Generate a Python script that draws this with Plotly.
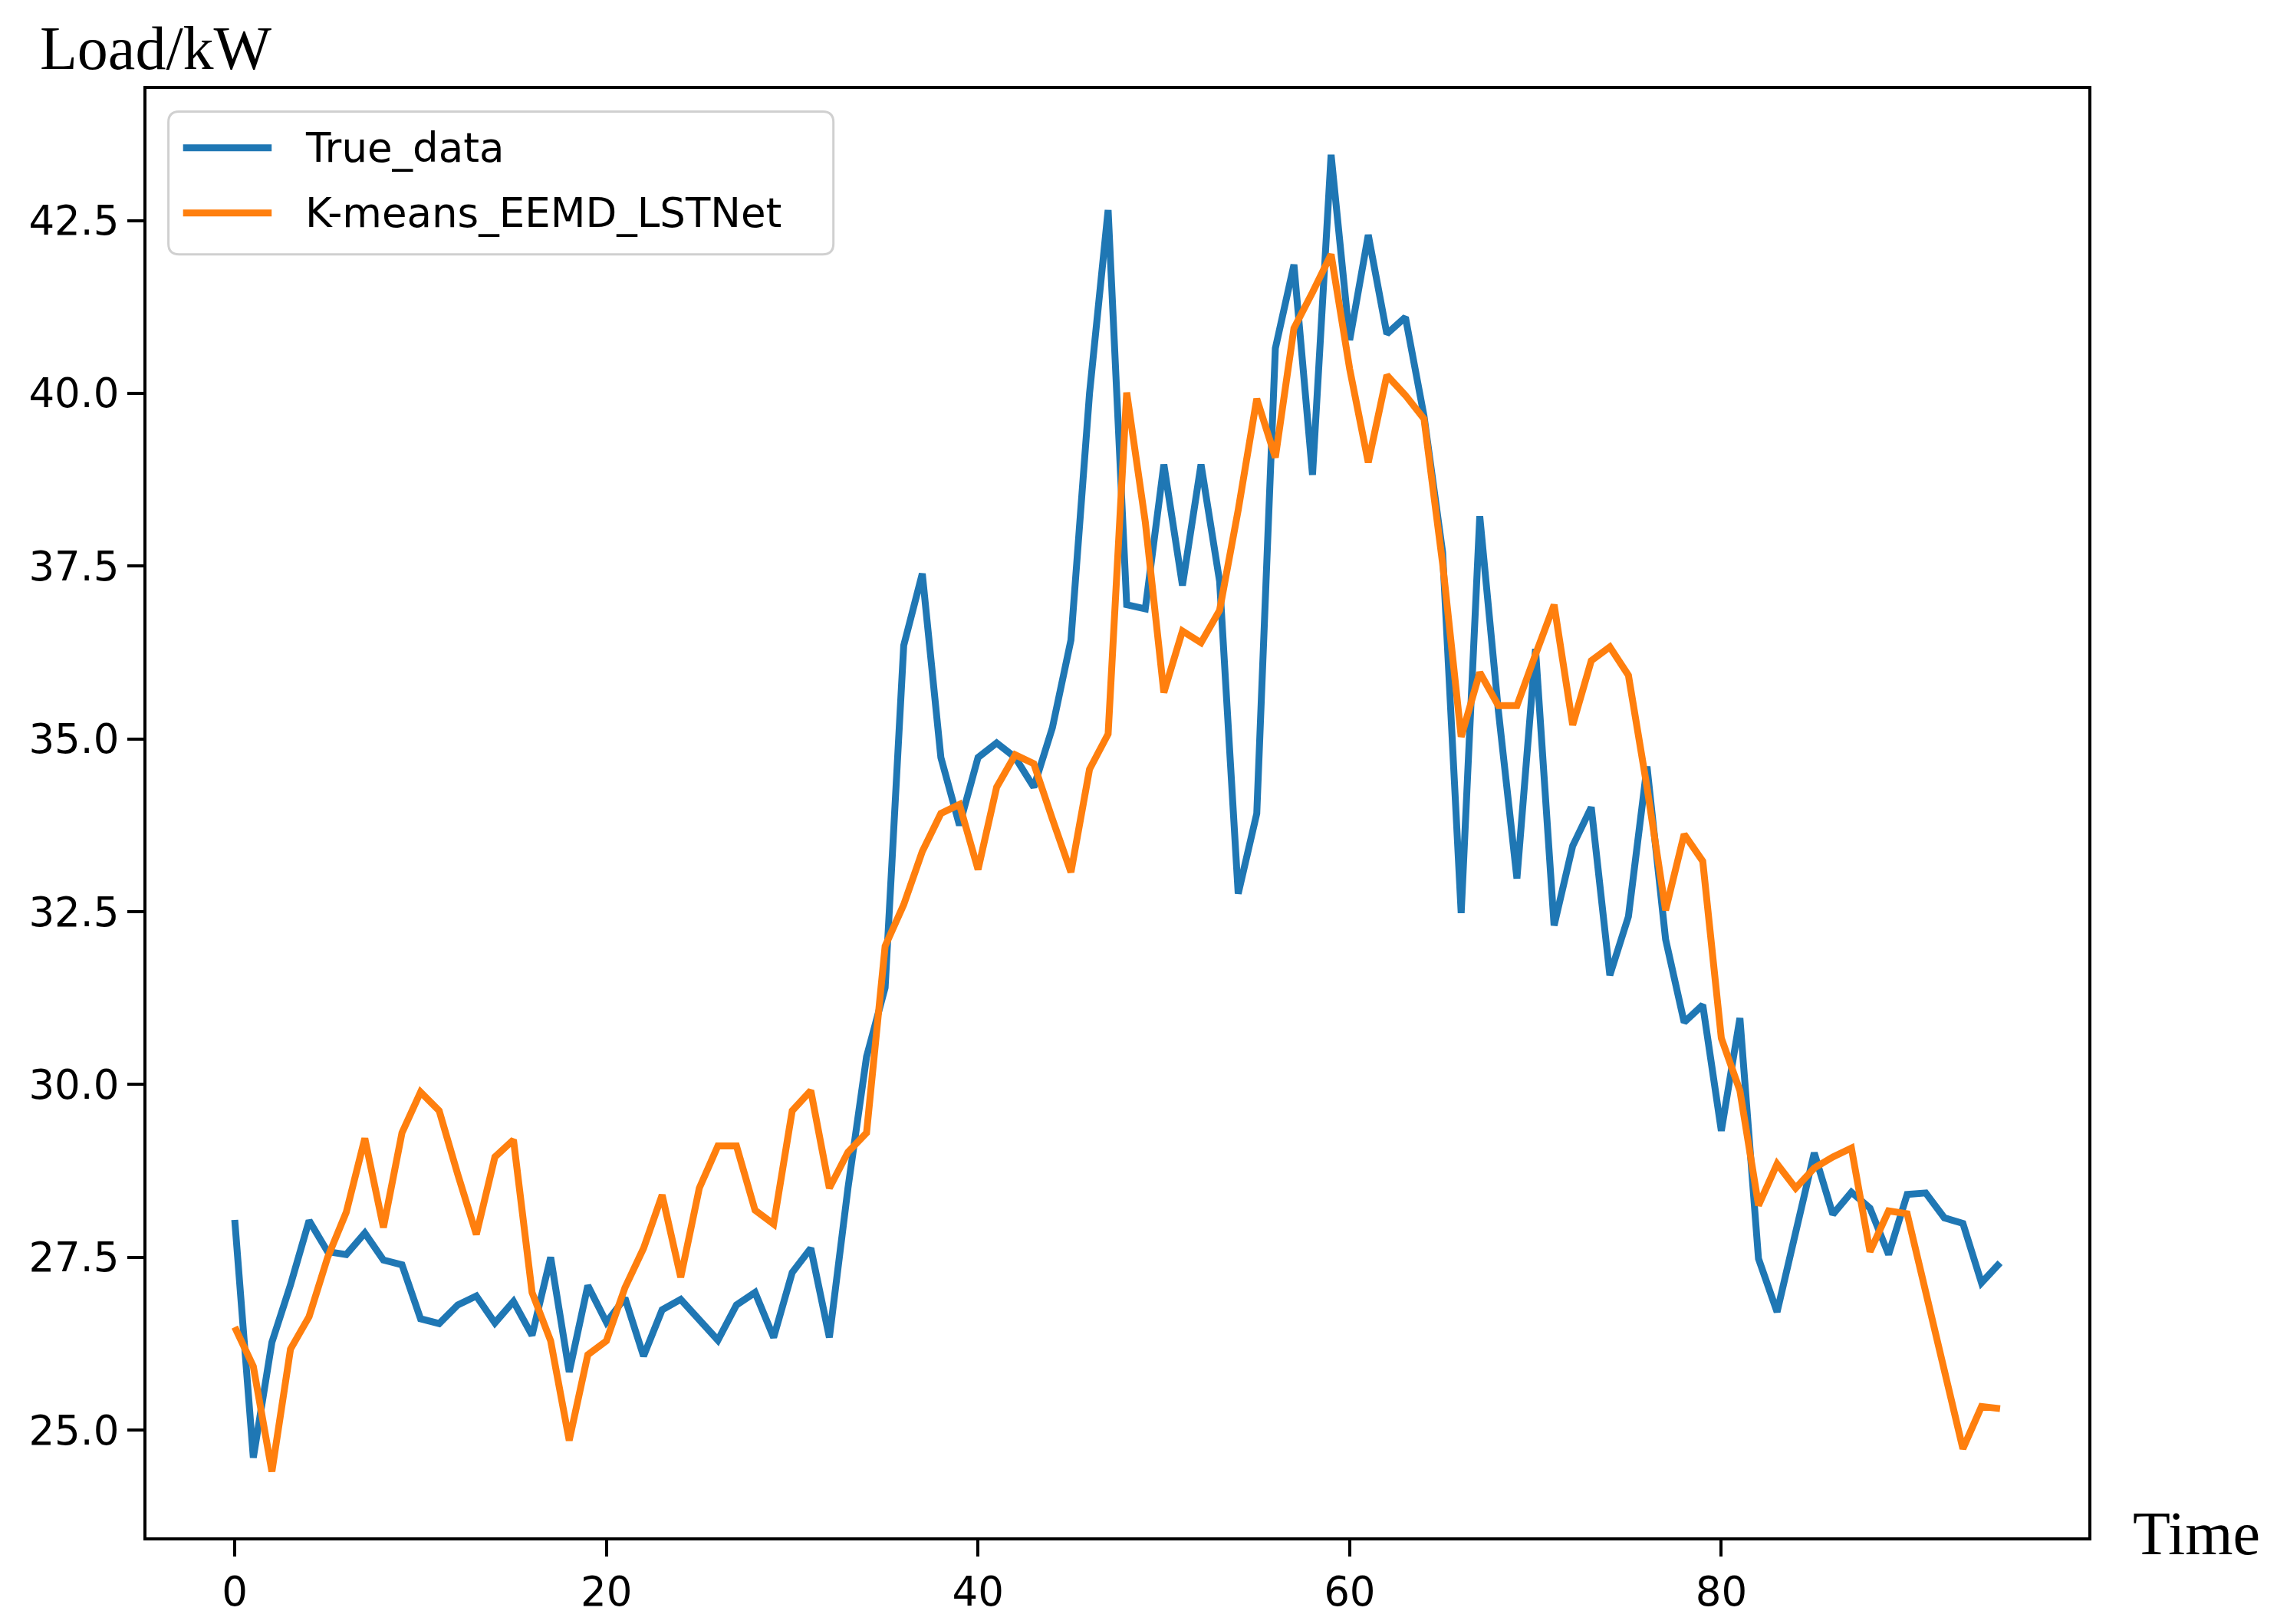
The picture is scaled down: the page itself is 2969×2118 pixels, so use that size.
import plotly.graph_objects as go

# ---------------- data ----------------
time_index = list(range(96))

series_names = ["True_data", "K-means_EEMD_LSTNet"]

true_data = [
    28.04, 24.60, 26.27, 27.10, 28.03, 27.58, 27.54, 27.85, 27.46, 27.39,
    26.61, 26.54, 26.81, 26.94, 26.55, 26.86, 26.37, 27.50, 25.84, 27.09,
    26.56, 26.91, 26.07, 26.74, 26.89, 26.59, 26.30, 26.81, 26.99, 26.34,
    27.28, 27.63, 26.34, 28.50, 30.40, 31.40, 36.35, 37.39, 34.73, 33.75,
    34.73, 34.94, 34.73, 34.30, 35.16, 36.43, 40.00, 42.65, 36.94, 36.88,
    38.97, 37.22, 38.97, 37.28, 32.76, 33.92, 40.65, 41.86, 38.82, 43.45,
    40.77, 42.29, 40.86, 41.10, 39.67, 37.70, 32.48, 38.22, 35.41, 32.98,
    36.30, 32.30, 33.45, 34.01, 31.58, 32.43, 34.60, 32.10, 30.90, 31.15,
    29.33, 30.96, 27.48, 26.71, 27.86, 29.01, 28.12, 28.44, 28.21, 27.54,
    28.41, 28.43, 28.07, 27.99, 27.13, 27.42,
]

predicted = [
    26.49, 25.92, 24.40, 26.17, 26.64, 27.50, 28.15, 29.22, 27.93, 29.30,
    29.89, 29.62, 28.70, 27.83, 28.95, 29.20, 26.99, 26.29, 24.85, 26.09,
    26.29, 27.06, 27.63, 28.40, 27.21, 28.50, 29.11, 29.11, 28.18, 27.98,
    29.62, 29.91, 28.50, 29.02, 29.30, 32.00, 32.60, 33.37, 33.92, 34.05,
    33.11, 34.30, 34.77, 34.64, 33.84, 33.07, 34.56, 35.07, 40.01, 38.14,
    35.67, 36.56, 36.39, 36.86, 38.31, 39.92, 39.07, 40.94, 41.46, 42.01,
    40.35, 39.00, 40.26, 39.97, 39.63, 37.54, 35.03, 35.96, 35.48, 35.48,
    36.22, 36.94, 35.20, 36.13, 36.33, 35.92, 34.30, 32.52, 33.62, 33.23,
    30.67, 29.91, 28.25, 28.85, 28.50, 28.79, 28.95, 29.08, 27.58, 28.17,
    28.13, 26.99, 25.84, 24.73, 25.34, 25.31,
]

x_ticks = [0, 20, 40, 60, 80]
y_ticks = [25.0, 27.5, 30.0, 32.5, 35.0, 37.5, 40.0, 42.5]

colors = ["#1f77b4", "#ff7f0e"]

# ---------------- layout geometry (page pixels) ----------------
W, H = 2969, 2118
BODY = 8  # default page body margin offsets the figure
L, R, T, B = 191, 2723, 116, 2005  # plot-area edges on the page


def px(x):
    return (x - L) / (R - L)


def py(y):
    return (B - y) / (B - T)


# axis ranges with matplotlib-like 5% margins
x_pad = 0.05 * (time_index[-1] - time_index[0])
all_vals = true_data + predicted
y_pad = 0.05 * (max(all_vals) - min(all_vals))
x_range = [time_index[0] - x_pad, time_index[-1] + x_pad]
y_range = [min(all_vals) - y_pad, max(all_vals) + y_pad]

fig = go.Figure()
for name, vals, col in zip(series_names, [true_data, predicted], colors):
    fig.add_trace(go.Scatter(
        x=time_index, y=vals, mode="lines", name=name,
        line=dict(color=col, width=9), showlegend=False,
    ))

tick_font = dict(family="DejaVu Sans", size=53, color="black")

fig.update_layout(
    width=W, height=H,
    margin=dict(l=L - BODY, r=W - R + BODY, t=T - BODY, b=H - B + BODY, pad=0),
    paper_bgcolor="white", plot_bgcolor="white",
    xaxis=dict(
        range=x_range, tickmode="array", tickvals=x_ticks,
        ticktext=[str(v) for v in x_ticks],
        showgrid=False, zeroline=False,
        showline=True, linecolor="black", linewidth=4, mirror=True,
        ticks="outside", ticklen=21, tickwidth=4, tickcolor="black",
        tickfont=tick_font,
    ),
    yaxis=dict(
        range=y_range, tickmode="array", tickvals=y_ticks,
        ticktext=[f"{v:.1f}" for v in y_ticks],
        showgrid=False, zeroline=False,
        showline=True, linecolor="black", linewidth=4, mirror=True,
        ticks="outside", ticklen=21, tickwidth=4, tickcolor="black",
        tickfont=tick_font,
    ),
)

# ---------------- axis titles ----------------
fig.add_annotation(
    text="Load/kW", xref="paper", yref="paper",
    x=px(50), y=py(63), xanchor="left", yanchor="middle",
    showarrow=False, font=dict(family="Liberation Serif", size=80, color="black"),
)
fig.add_annotation(
    text="Time", xref="paper", yref="paper",
    x=px(2779), y=py(2000), xanchor="left", yanchor="middle",
    showarrow=False, font=dict(family="Liberation Serif", size=80, color="black"),
)

# ---------------- legend (matplotlib style box) ----------------
lx0, lx1, ly0, ly1 = 219.6, 1086.7, 145.6, 331.7
r = 14
path = (
    f"M {px(lx0 + r)},{py(ly0)} L {px(lx1 - r)},{py(ly0)} "
    f"Q {px(lx1)},{py(ly0)} {px(lx1)},{py(ly0 + r)} "
    f"L {px(lx1)},{py(ly1 - r)} Q {px(lx1)},{py(ly1)} {px(lx1 - r)},{py(ly1)} "
    f"L {px(lx0 + r)},{py(ly1)} Q {px(lx0)},{py(ly1)} {px(lx0)},{py(ly1 - r)} "
    f"L {px(lx0)},{py(ly0 + r)} Q {px(lx0)},{py(ly0)} {px(lx0 + r)},{py(ly0)} Z"
)
fig.add_shape(type="path", path=path, xref="paper", yref="paper",
              line=dict(color="#d0d0d0", width=3),
              fillcolor="rgba(255,255,255,0.8)", layer="above")

entry_y = [192.7, 277.7]
for name, col, ey in zip(series_names, colors, entry_y):
    fig.add_shape(type="line", xref="paper", yref="paper",
                  x0=px(238.7), x1=px(354.2), y0=py(ey), y1=py(ey),
                  line=dict(color=col, width=9), layer="above")
    fig.add_annotation(
        text=name, xref="paper", yref="paper",
        x=px(396), y=py(ey), xanchor="left", yanchor="middle",
        showarrow=False, font=tick_font,
    )

fig.write_html("out.html")
